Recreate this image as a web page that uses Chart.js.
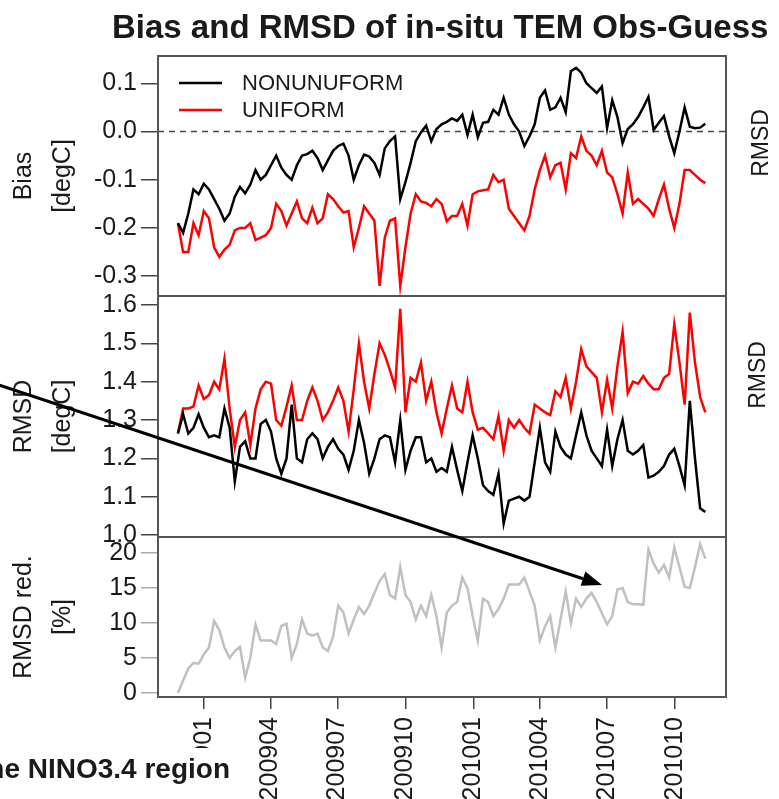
<!DOCTYPE html>
<html>
<head>
<meta charset="utf-8">
<script src="https://cdn.jsdelivr.net/npm/chart.js@4.4.1/dist/chart.umd.min.js"></script>
<style>
    html, body { margin: 0; padding: 0; background: #fff; }
    #wrap { position: relative; width: 779px; height: 799px; overflow: hidden; }
    #wrap canvas { position: absolute; left: 0; top: 0; }
</style>
</head>
<body>
<div id="wrap">
    <canvas id="biasChart" width="779" height="799"></canvas>
    <canvas id="rmsdChart" width="779" height="799"></canvas>
    <canvas id="redChart" width="779" height="799"></canvas>
</div>
<script>
// weekly values, first week starting 2008-11-27
const biasNonuniform = [
    -0.19, -0.21, -0.17, -0.12, -0.13, -0.108, -0.12, -0.14, -0.16, -0.185,
    -0.17, -0.135, -0.115, -0.128, -0.11, -0.08, -0.1, -0.09, -0.07, -0.05,
    -0.075, -0.09, -0.1, -0.07, -0.05, -0.047, -0.04, -0.055, -0.08, -0.06,
    -0.04, -0.03, -0.025, -0.05, -0.1, -0.07, -0.048, -0.052, -0.065, -0.09,
    -0.035, -0.02, -0.01, -0.14, -0.105, -0.065, -0.02, -0.002, 0.012, -0.02,
    0.005, 0.015, 0.02, 0.027, 0.022, 0.035, -0.007, 0.035, -0.012, 0.018,
    0.02, 0.045, 0.035, 0.07, 0.035, 0.015, 0.0, -0.03, -0.01, 0.015,
    0.07, 0.085, 0.045, 0.05, 0.07, 0.04, 0.125, 0.132, 0.122, 0.1,
    0.09, 0.08, 0.093, 0.007, 0.065, 0.03, -0.024, 0.005, 0.015, 0.03,
    0.05, 0.072, 0.003, 0.018, 0.032, -0.01, -0.045, 0.0, 0.05, 0.01,
    0.007, 0.008, 0.016
];
const biasUniform = [
    -0.19, -0.25, -0.25, -0.19, -0.215, -0.165, -0.18, -0.24, -0.26, -0.245,
    -0.235, -0.205, -0.2, -0.2, -0.19, -0.225, -0.22, -0.215, -0.2, -0.15,
    -0.165, -0.195, -0.17, -0.145, -0.18, -0.19, -0.158, -0.19, -0.18, -0.13,
    -0.14, -0.155, -0.168, -0.165, -0.24, -0.2, -0.155, -0.17, -0.185, -0.32,
    -0.22, -0.185, -0.18, -0.32, -0.24, -0.17, -0.13, -0.145, -0.148, -0.155,
    -0.14, -0.15, -0.186, -0.175, -0.175, -0.15, -0.195, -0.13, -0.124, -0.122,
    -0.12, -0.09, -0.105, -0.1, -0.16, -0.175, -0.19, -0.205, -0.175, -0.12,
    -0.08, -0.05, -0.095, -0.07, -0.065, -0.12, -0.045, -0.055, -0.01, -0.04,
    -0.05, -0.07, -0.04, -0.085, -0.095, -0.13, -0.17, -0.085, -0.15, -0.14,
    -0.15, -0.16, -0.175, -0.14, -0.11, -0.16, -0.2, -0.15, -0.08, -0.08,
    -0.09, -0.1, -0.107
];
const rmsdNonuniform = [
    1.265, 1.315, 1.265, 1.28, 1.315, 1.28, 1.255, 1.26, 1.255, 1.33,
    1.28, 1.14, 1.23, 1.245, 1.2, 1.2, 1.29, 1.3, 1.27, 1.2,
    1.16, 1.2, 1.34, 1.2, 1.19, 1.25, 1.265, 1.25, 1.2, 1.23,
    1.25, 1.225, 1.21, 1.17, 1.22, 1.3, 1.24, 1.16, 1.2, 1.25,
    1.26, 1.255, 1.19, 1.3, 1.17, 1.22, 1.255, 1.255, 1.19, 1.2,
    1.165, 1.175, 1.165, 1.23, 1.17, 1.115, 1.19, 1.26, 1.2, 1.13,
    1.115, 1.105, 1.16, 1.03, 1.09, 1.095, 1.1, 1.09, 1.1, 1.19,
    1.28, 1.19, 1.165, 1.27, 1.23, 1.21, 1.2, 1.26, 1.32, 1.26,
    1.22, 1.2, 1.18, 1.275, 1.18, 1.25, 1.3, 1.22, 1.21, 1.22,
    1.235, 1.15, 1.155, 1.165, 1.18, 1.21, 1.225, 1.18, 1.13, 1.35,
    1.2, 1.07, 1.06
];
const rmsdUniform = [
    1.265, 1.33, 1.33, 1.335, 1.39, 1.355, 1.365, 1.4, 1.38, 1.46,
    1.33, 1.23, 1.3, 1.32, 1.235, 1.33, 1.38, 1.4, 1.395, 1.3,
    1.285, 1.335, 1.39, 1.3, 1.3, 1.35, 1.385, 1.35, 1.3, 1.32,
    1.35, 1.385, 1.35, 1.27, 1.38, 1.5, 1.4, 1.33, 1.42, 1.5,
    1.47, 1.43, 1.385, 1.59, 1.32, 1.41, 1.4, 1.45, 1.35, 1.4,
    1.32, 1.265, 1.33, 1.39, 1.33, 1.32, 1.4, 1.32, 1.275, 1.28,
    1.265, 1.25, 1.31, 1.22, 1.3, 1.28, 1.3, 1.28, 1.265, 1.34,
    1.33, 1.32, 1.313, 1.375, 1.36, 1.41, 1.33, 1.4, 1.485, 1.44,
    1.425, 1.41, 1.32, 1.405, 1.33, 1.44, 1.53, 1.37, 1.4, 1.395,
    1.415, 1.395, 1.38, 1.38, 1.41, 1.42, 1.55, 1.45, 1.34, 1.58,
    1.45, 1.36, 1.32
];
const rmsdReduction = [
    0, 1.8, 3.5, 4.3, 4.2, 5.5, 6.5, 10.3, 9, 6.5,
    5, 6, 6.6, 2.2, 5, 9.8, 7.5, 7.5, 7.5, 7,
    9.6, 9.9, 5, 7, 10.5, 8.5, 8.2, 8.5, 6.5, 6,
    8, 12.5, 11.5, 8.5, 10.5, 12.3, 11.3, 12.5, 14.3, 16,
    17, 14, 13.5, 18, 14, 13, 10.5, 12.5, 11, 14,
    11, 6.5, 11.5, 12.5, 13, 16.5, 15, 11, 7.5, 13.5,
    13, 11, 12, 13.5, 15.5, 15.5, 15.5, 16.5, 14.5, 12.5,
    7.5, 9.5, 11, 6.5, 10.5, 14.5, 10, 13.5, 12.3, 13.5,
    14.3, 13, 11.4, 9.8, 11, 14.8, 15, 13, 12.7, 12.7,
    12.6, 20.5, 18.5, 17.2, 18.3, 16.5, 20.8, 18, 15.2, 15,
    18, 21.3, 19.2
];

const seriesLabels = ["NONUNUFORM", "UNIFORM"];
const tickMonths = ["200901", "200904", "200907", "200910", "201001", "201004", "201007", "201010"];
const biasTicks = [-0.3, -0.2, -0.1, 0.0, 0.1];
const rmsdTicks = [1.0, 1.1, 1.2, 1.3, 1.4, 1.5, 1.6];
const reductionTicks = [0, 5, 10, 15, 20];

const FONT = '"Liberation Sans", Arial, Helvetica, sans-serif';
const INK = "#1a1a1a";
const X_MIN = -62;
const X_MAX = 707;

const DAY = 86400000;
const ORIGIN = Date.UTC(2009, 0, 1);
const dayOf = (y, m, d) => (Date.UTC(y, m - 1, d) - ORIGIN) / DAY;
const week0 = dayOf(2008, 11, 27);
const weekDays = biasNonuniform.map((_, i) => week0 + 7 * i);
const tickDays = tickMonths.map((s) => dayOf(+s.slice(0, 4), +s.slice(4), 1));

const points = (values) => values.map((v, i) => ({ x: weekDays[i], y: v }));

const framePlugin = {
    id: "frame",
    afterDraw(chart) {
        const { ctx, chartArea: a } = chart;
        ctx.save();
        ctx.strokeStyle = "#555";
        ctx.lineWidth = 2;
        ctx.strokeRect(a.left, a.top, a.right - a.left, a.bottom - a.top);
        ctx.restore();
    }
};

const legendPlugin = {
    id: "insetLegend",
    afterDraw(chart) {
        const { ctx, chartArea: a } = chart;
        ctx.save();
        chart.data.datasets.filter((d) => d.label).forEach((d, i) => {
            const y = a.top + 27 + i * 27;
            ctx.strokeStyle = d.borderColor;
            ctx.lineWidth = 2.5;
            ctx.beginPath();
            ctx.moveTo(a.left + 21, y);
            ctx.lineTo(a.left + 64, y);
            ctx.stroke();
            ctx.fillStyle = INK;
            ctx.font = `22px ${FONT}`;
            ctx.textBaseline = "middle";
            ctx.fillText(d.label, a.left + 84, y + 1);
        });
        ctx.restore();
    }
};

const annotationPlugin = {
    id: "pageText",
    afterDraw(chart) {
        const { ctx } = chart;
        ctx.save();
        ctx.fillStyle = INK;

        // main title
        ctx.font = `bold 33px ${FONT}`;
        ctx.textBaseline = "middle";
        ctx.textAlign = "left";
        ctx.fillText("Bias and RMSD of in-situ TEM Obs-Guess", 112, 29);

        // neighbouring panel labels, cut by the frame
        ctx.font = `23px ${FONT}`;
        ctx.textAlign = "center";
        [[762, 143], [759, 375]].forEach(([x, y]) => {
            ctx.save();
            ctx.translate(x, y);
            ctx.rotate(-Math.PI / 2);
            ctx.fillText("RMSD", 0, 0);
            ctx.restore();
        });

        // caption at the bottom
        ctx.fillStyle = "#fff";
        ctx.fillRect(0, 748, 238, 51);
        ctx.fillStyle = INK;
        ctx.font = `bold 28px ${FONT}`;
        ctx.textAlign = "right";
        ctx.fillText("in the NINO3.4 region", 230, 770);

        // arrow
        const x0 = -10, y0 = 382, x1 = 602, y1 = 585;
        const ang = Math.atan2(y1 - y0, x1 - x0);
        const len = 20, half = 7.5;
        const bx = x1 - len * Math.cos(ang), by = y1 - len * Math.sin(ang);
        ctx.strokeStyle = "#000";
        ctx.lineWidth = 3;
        ctx.beginPath();
        ctx.moveTo(x0, y0);
        ctx.lineTo(bx, by);
        ctx.stroke();
        ctx.fillStyle = "#000";
        ctx.beginPath();
        ctx.moveTo(x1, y1);
        ctx.lineTo(bx + half * Math.sin(ang), by - half * Math.cos(ang));
        ctx.lineTo(bx - half * Math.sin(ang), by + half * Math.cos(ang));
        ctx.closePath();
        ctx.fill();
        ctx.restore();
    }
};

function yAxis(min, max, ticks, fmt, titleLines, tickColor) {
    return {
        min,
        max,
        afterBuildTicks: (s) => { s.ticks = ticks.map((v) => ({ value: v })); },
        afterFit: (s) => { s.width = 158; },
        ticks: {
            autoSkip: false,
            color: INK,
            padding: 4,
            font: { family: FONT, size: 25 },
            callback: fmt
        },
        grid: { drawOnChartArea: false, tickLength: 17, color: tickColor, lineWidth: 1.5 },
        border: { display: false },
        title: {
            display: true,
            text: titleLines,
            color: INK,
            font: { family: FONT, size: 25, lineHeight: 1.55 },
            padding: { top: 5, bottom: 0 }
        }
    };
}

function hiddenX() {
    return { type: "linear", min: X_MIN, max: X_MAX, display: false };
}

function dateX() {
    return {
        type: "linear",
        min: X_MIN,
        max: X_MAX,
        afterBuildTicks: (s) => { s.ticks = tickDays.map((v) => ({ value: v })); },
        afterFit: (s) => { s.height = 102; },
        ticks: {
            autoSkip: false,
            minRotation: 90,
            maxRotation: 90,
            padding: 8,
            color: INK,
            font: { family: FONT, size: 25 },
            callback: (v, i) => tickMonths[i]
        },
        grid: { drawOnChartArea: false, tickLength: 12, color: "#444", lineWidth: 1.5 },
        border: { display: false }
    };
}

function panel(id, datasets, padTop, padBottom, xScale, yScale, extra = []) {
    return new Chart(document.getElementById(id), {
        type: "line",
        data: { datasets },
        options: {
            responsive: false,
            animation: false,
            devicePixelRatio: 1,
            layout: { padding: { left: 0, right: 53, top: padTop, bottom: padBottom } },
            plugins: { legend: { display: false }, tooltip: { enabled: false } },
            elements: { point: { radius: 0 }, line: { borderWidth: 2.5, tension: 0 } },
            scales: { x: xScale, y: yScale }
        },
        plugins: [framePlugin, ...extra]
    });
}

panel("biasChart",
    [
        { label: seriesLabels[0], data: points(biasNonuniform), borderColor: "#000" },
        { label: seriesLabels[1], data: points(biasUniform), borderColor: "#f00" },
        { data: [{ x: X_MIN, y: 0 }, { x: X_MAX, y: 0 }], borderColor: "#444", borderWidth: 1.5, borderDash: [6, 5] }
    ],
    56, 503, hiddenX(),
    yAxis(-0.341, 0.1565, biasTicks, (v) => v.toFixed(1), ["Bias", "[degC]"], "#444"),
    [legendPlugin]
);

panel("rmsdChart",
    [
        { label: seriesLabels[0], data: points(rmsdNonuniform), borderColor: "#000" },
        { label: seriesLabels[1], data: points(rmsdUniform), borderColor: "#f00" }
    ],
    296, 262, hiddenX(),
    yAxis(0.995, 1.6235, rmsdTicks, (v) => v.toFixed(1), ["RMSD", "[degC]"], "#444")
);

panel("redChart",
    [
        { label: "RMSD reduction", data: points(rmsdReduction), borderColor: "#c0c0c0" }
    ],
    537, 0, dateX(),
    yAxis(-0.57, 22.3, reductionTicks, (v) => String(v), ["RMSD red.", "[%]"], "#aaa"),
    [annotationPlugin]
);
</script>
</body>
</html>
